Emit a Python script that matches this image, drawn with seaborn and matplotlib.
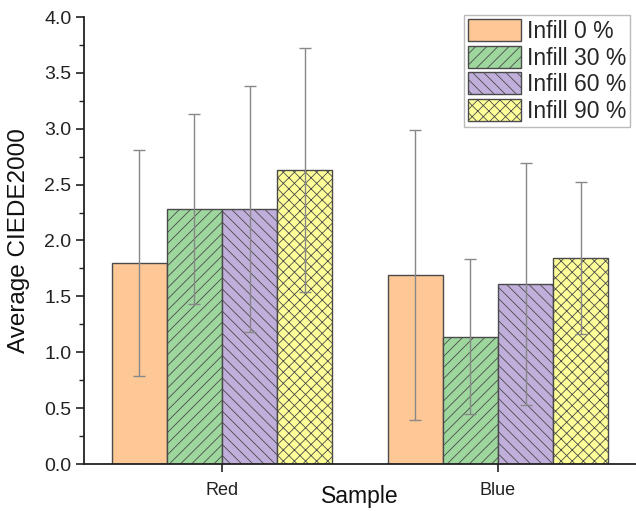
import matplotlib
matplotlib.use("Agg")
import matplotlib.pyplot as plt
import seaborn as sns
import pandas as pd
from matplotlib.ticker import MultipleLocator

samples = ["Red", "Blue"]
infills = ["Infill 0 %", "Infill 30 %", "Infill 60 %", "Infill 90 %"]
red_means = [1.80, 2.28, 2.28, 2.63]
red_errs = [1.01, 0.85, 1.10, 1.09]
blue_means = [1.69, 1.14, 1.61, 1.84]
blue_errs = [1.30, 0.69, 1.08, 0.68]

colors = ["#FDC896", "#9ED79E", "#C0AEDB", "#FFFF99"]
hatches = ["", "///", "\\\\\\", "xxx"]

rows = []
for s, means, errs in [("Red", red_means, red_errs), ("Blue", blue_means, blue_errs)]:
    for inf, m, e in zip(infills, means, errs):
        rows.append({"Sample": s, "Infill": inf, "Value": m, "Err": e})
df = pd.DataFrame(rows)

sns.set_style("ticks")
plt.rcParams["font.family"] = ["Liberation Sans", "DejaVu Sans"]
plt.rcParams["hatch.linewidth"] = 0.6

fig = plt.figure(figsize=(6.36, 5.11), dpi=100)
ax = fig.add_axes([84 / 636, 47 / 511, 552 / 636, 447 / 511])

sns.barplot(data=df, x="Sample", y="Value", hue="Infill", order=samples,
            hue_order=infills, palette=colors, errorbar=None, width=0.8,
            saturation=1, ax=ax, legend=False)

for cont, h, inf in zip(ax.containers, hatches, infills):
    for p in cont.patches:
        p.set_hatch(h)
        p.set_edgecolor("#4a4a4a")
        p.set_linewidth(1.0)
    cont.set_label(inf)
    sub = df[df["Infill"] == inf].set_index("Sample").loc[samples]
    xs = [p.get_x() + p.get_width() / 2 for p in cont.patches]
    ax.errorbar(xs, sub["Value"].values, yerr=sub["Err"].values, fmt="none",
                ecolor="#888888", elinewidth=1.0, capsize=4.5, capthick=1.0,
                zorder=5)

ax.set_xlim(-0.5, 1.5)
ax.set_ylim(0, 4.0)
ax.yaxis.set_major_locator(MultipleLocator(0.5))
ax.yaxis.set_minor_locator(MultipleLocator(0.25))
ax.yaxis.set_major_formatter(matplotlib.ticker.FormatStrFormatter("%.1f"))

for side in ["top", "right"]:
    ax.spines[side].set_visible(False)
for side in ["left", "bottom"]:
    ax.spines[side].set_linewidth(1.3)
    ax.spines[side].set_color("#222222")

ax.tick_params(axis="y", which="major", direction="out", length=6, width=1.2,
               labelsize=14, pad=3, colors="#222222")
ax.tick_params(axis="y", which="minor", direction="out", length=3.5, width=1.0,
               colors="#222222")
ax.tick_params(axis="x", which="major", direction="out", length=6, width=1.2,
               labelsize=13, pad=7, colors="#222222")

ax.set_xlabel("Sample", fontsize=16.5, color="#111111")
ax.set_ylabel("Average CIEDE2000", fontsize=17.5, color="#111111")
ax.xaxis.set_label_coords(0.5, -0.046)
ax.yaxis.set_label_coords(-0.118, 0.5)
ax.yaxis.label.set_va("center")

leg = ax.legend(handles=ax.containers, labels=infills, loc="upper right",
                bbox_to_anchor=(0.99, 1.005), borderaxespad=0, fontsize=16.5,
                frameon=True, fancybox=False, handlelength=2.3,
                handleheight=1.1, handletextpad=0.25, labelspacing=0.12,
                borderpad=0.2)
leg.get_frame().set_edgecolor("#aaaaaa")
leg.get_frame().set_linewidth(1.0)

fig.savefig("out.png", dpi=100)
